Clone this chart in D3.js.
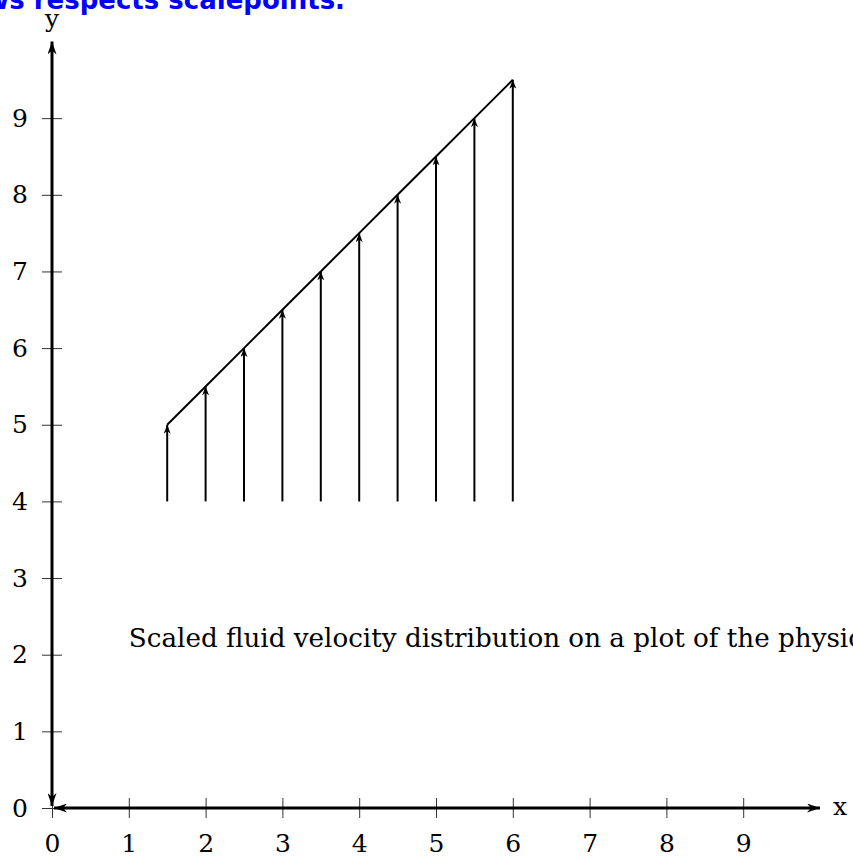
<!DOCTYPE html>
<html>
<head>
<meta charset="utf-8">
<script src="https://cdn.jsdelivr.net/npm/d3@7"></script>
<style>
  body { margin: 0; background: #fff; }
  svg { display: block; }
</style>
</head>
<body>
<svg class="chart" width="853" height="857"></svg>
<script>
// data
const xTicks = [0, 1, 2, 3, 4, 5, 6, 7, 8, 9]
const yTicks = [0, 1, 2, 3, 4, 5, 6, 7, 8, 9]
const vecX = [1.5, 2, 2.5, 3, 3.5, 4, 4.5, 5, 5.5, 6]
const vecBase = [4, 4, 4, 4, 4, 4, 4, 4, 4, 4]
const vecTip = [5, 5.5, 6, 6.5, 7, 7.5, 8, 8.5, 9, 9.5]
const axisMax = 10
const caption = 'Scaled fluid velocity distribution on a plot of the physical plane'
const title = 'Arrows respects scalepoints.'

const x = d3.scaleLinear([0, 10], [52, 820])
const y = d3.scaleLinear([0, 10], [808, 41.5])

const svg = d3.select('.chart')
const serif = 'DejaVu Serif'
const fs = 25

// markers
const defs = svg.append('defs')
function stealth(id, len, wid) {
    defs.append('marker')
        .attr('id', id)
        .attr('markerUnits', 'userSpaceOnUse')
        .attr('viewBox', `${-len} ${-wid / 2} ${len} ${wid}`)
        .attr('refX', 0).attr('refY', 0)
        .attr('markerWidth', len).attr('markerHeight', wid)
        .attr('orient', 'auto-start-reverse')
        .append('path')
        .attr('d', `M0,0 L${-len},${-wid / 2} L${-len * 0.7},0 L${-len},${wid / 2} Z`)
        .attr('fill', '#000')
}
stealth('axArrow', 13, 9)
stealth('vecArrow', 9, 7)

// ticks (both sides)
const xAxis = d3.axisBottom(x).tickValues(xTicks).tickSize(20).tickPadding(16)
    .tickFormat(d3.format('d'))
svg.append('g')
    .attr('transform', `translate(0, ${y(0) - 10})`)
    .call(xAxis)
    .call(g => g.select('.domain').remove())
    .call(g => g.selectAll('line').attr('stroke', '#333').attr('stroke-width', 1))
    .call(g => g.selectAll('text').attr('font-family', serif).attr('font-size', fs).attr('fill', '#000'))

const yAxis = d3.axisLeft(y).tickValues(yTicks).tickSize(20).tickPadding(14)
    .tickFormat(d3.format('d'))
svg.append('g')
    .attr('transform', `translate(${x(0) + 10}, 0)`)
    .call(yAxis)
    .call(g => g.select('.domain').remove())
    .call(g => g.selectAll('line').attr('stroke', '#333').attr('stroke-width', 1))
    .call(g => g.selectAll('text').attr('font-family', serif).attr('font-size', fs).attr('fill', '#000'))

// axis lines with arrows on both ends
svg.append('line')
    .attr('x1', x(0) + 2).attr('y1', y(0))
    .attr('x2', x(axisMax)).attr('y2', y(0))
    .attr('stroke', '#000').attr('stroke-width', 3)
    .attr('marker-start', 'url(#axArrow)')
    .attr('marker-end', 'url(#axArrow)')

svg.append('line')
    .attr('x1', x(0)).attr('y1', y(0) - 2)
    .attr('x2', x(0)).attr('y2', y(axisMax))
    .attr('stroke', '#000').attr('stroke-width', 3)
    .attr('marker-start', 'url(#axArrow)')
    .attr('marker-end', 'url(#axArrow)')

svg.append('text').text('x')
    .attr('x', x(axisMax) + 13).attr('y', y(0) + 7)
    .attr('font-family', serif).attr('font-size', fs)

svg.append('text').text('y')
    .attr('x', x(0) - 7).attr('y', y(axisMax) - 15)
    .attr('font-family', serif).attr('font-size', fs)

// vectors
svg.selectAll('.vec')
    .data(vecX)
    .join('line')
    .attr('class', 'vec')
    .attr('x1', d => x(d))
    .attr('x2', d => x(d))
    .attr('y1', (d, i) => y(vecBase[i]))
    .attr('y2', (d, i) => y(vecTip[i]))
    .attr('stroke', '#000').attr('stroke-width', 2)
    .attr('marker-end', 'url(#vecArrow)')

// line through the tips
svg.append('path')
    .datum(vecX)
    .attr('d', d3.line().x(d => x(d)).y((d, i) => y(vecTip[i])))
    .attr('fill', 'none')
    .attr('stroke', '#000').attr('stroke-width', 2)

// caption
svg.append('text').text(caption)
    .attr('x', x(1)).attr('y', y(2) - 8)
    .attr('font-family', serif).attr('font-size', 26.2)

// title (clipped at top)
svg.append('text').text(title)
    .attr('x', 345).attr('y', 9)
    .attr('text-anchor', 'end')
    .attr('font-family', 'DejaVu Sans').attr('font-weight', 'bold')
    .attr('font-size', 26).attr('fill', '#0000ff')
</script>
</body>
</html>
